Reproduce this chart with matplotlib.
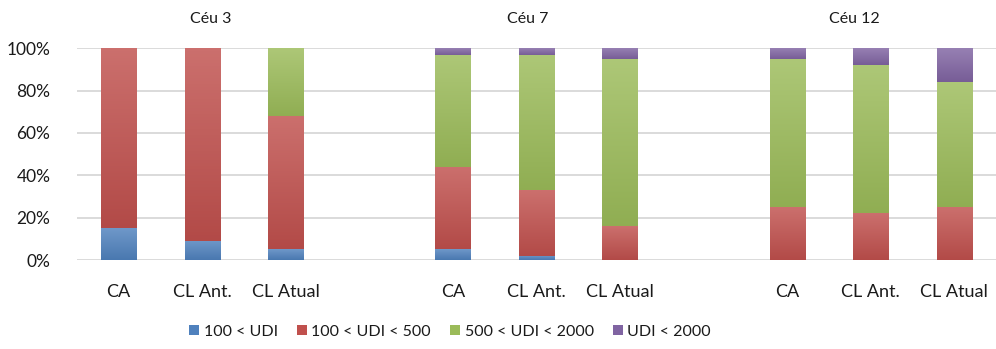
import matplotlib
matplotlib.use("Agg")
import matplotlib.pyplot as plt
import matplotlib.colors as mcolors
import numpy as np

plt.rcParams['font.family'] = ['Lato', 'DejaVu Sans']

# UDI distribution (%) per sky condition and model
groups = ['Céu 3', 'Céu 7', 'Céu 12']
models = ['CA', 'CL Ant.', 'CL Atual']
series = ['100 < UDI', '100 < UDI < 500', '500 < UDI < 2000', 'UDI < 2000']
udi_low = [15, 9, 5, 5, 2, 0, 0, 0, 0]
udi_100_500 = [85, 91, 63, 39, 31, 16, 25, 22, 25]
udi_500_2000 = [0, 0, 32, 53, 64, 79, 70, 70, 59]
udi_high = [0, 0, 0, 3, 3, 5, 5, 8, 16]
colors = ['#4f81bd', '#c0504d', '#9bbb59', '#8064a2']

# three bars per group with an empty slot between groups
xpos = []
labels = []
for g in range(len(groups)):
    for m in range(len(models)):
        xpos.append(g * 4 + m)
        labels.append(models[m])
xpos = np.array(xpos)

fig = plt.figure(figsize=(9.96, 3.49), dpi=100)
ax = fig.add_axes([0.077, 0.255, 0.923, 0.607])


def shade(ax, bars, col):
    # soft vertical gradient inside each segment, lighter at the top
    base = np.array(mcolors.to_rgb(col))
    top = base + (1 - base) * 0.18
    bot = base * 0.93
    t = np.linspace(0, 1, 64)[:, None]
    img = (bot * (1 - t) + top * t)[:, None, :]
    for b in bars:
        h = b.get_height()
        if h <= 0:
            continue
        x0, y0 = b.get_x(), b.get_y()
        im = ax.imshow(img, extent=(x0, x0 + b.get_width(), y0, y0 + h),
                       origin='lower', aspect='auto', zorder=3.5)
        im.set_clip_path(b)


bottom = np.zeros(len(xpos))
for vals, col, name in zip([udi_low, udi_100_500, udi_500_2000, udi_high], colors, series):
    v = np.array(vals, dtype=float)
    bars = ax.bar(xpos, v, width=0.42, bottom=bottom, color=col, label=name, zorder=3)
    shade(ax, bars, col)
    bottom += v

ax.set_xlim(-0.5, 10.5)
ax.set_ylim(0, 100)
ax.set_yticks(range(0, 101, 20))
ax.set_yticklabels(['%d%%' % t for t in range(0, 101, 20)])
ax.set_xticks(xpos)
ax.set_xticklabels(labels)
ax.tick_params(axis='both', length=0, colors='#1a1a1a')
ax.tick_params(axis='x', pad=17, labelsize=13)
ax.tick_params(axis='y', pad=19, labelsize=12.5)
ax.yaxis.grid(True, color='#d4d4d4', linewidth=1.2, zorder=0)
for s in ax.spines.values():
    s.set_visible(False)

# group titles above each trio of bars
title_x = [1.1, 4.9, 8.8]
for gx, name in zip(title_x, groups):
    fig.text(ax.transData.transform((gx, 0))[0] / fig.bbox.width, 0.945, name,
             ha='center', va='center', fontsize=11.5, color='#1a1a1a')

fig.legend(loc='center', bbox_to_anchor=(0.452, 0.05), ncol=4, frameon=False,
           fontsize=11.5, handlelength=0.6, handleheight=0.6, handletextpad=0.3,
           columnspacing=1.2, labelcolor='#1a1a1a')

fig.savefig('out.png', dpi=100)
